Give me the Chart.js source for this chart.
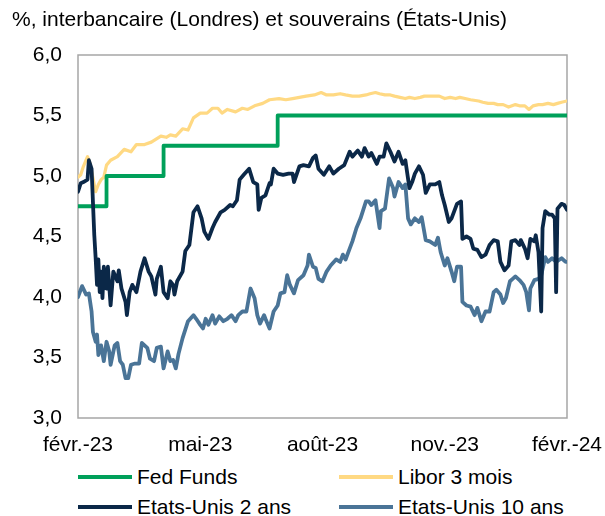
<!DOCTYPE html>
<html>
<head>
<meta charset="utf-8">
<script src="https://cdn.jsdelivr.net/npm/chart.js@4.4.1/dist/chart.umd.min.js"></script>
<style>
  html, body { margin: 0; padding: 0; background: #fff; }
  #wrap { position: relative; width: 605px; height: 516px; font-family: "Liberation Sans", Arial, sans-serif; color: #000; }
  #title { position: absolute; left: 12px; top: 7px; font-size: 21px; white-space: nowrap; }
  #chart { position: absolute; left: 0; top: 0; }
  .leg { position: absolute; display: flex; align-items: center; height: 24px; font-size: 21px; white-space: nowrap; }
  .leg i { display: inline-block; width: 54px; height: 4px; margin-right: 5px; }
</style>
</head>
<body>
<div id="wrap">
  <canvas id="chart" width="605" height="460"></canvas>
  <div id="title">%, interbancaire (Londres) et souverains (États-Unis)</div>
  <div class="leg" style="left:78px;top:465px"><i style="background:#00A05A"></i>Fed Funds</div>
  <div class="leg" style="left:339px;top:465px"><i style="background:#FFD983"></i>Libor 3 mois</div>
  <div class="leg" style="left:78px;top:495px"><i style="background:#0B2848"></i>Etats-Unis 2 ans</div>
  <div class="leg" style="left:339px;top:495px"><i style="background:#4A7497"></i>Etats-Unis 10 ans</div>
</div>
<script>
// x = days from start of series (early March 2023), axis runs 0..360
const xTickDays = [0, 90, 180, 270, 360];
const xLabels = ["févr.-23", "mai-23", "août-23", "nov.-23", "févr.-24"];

// Fed Funds (upper bound), step series
const ffDays = [0, 21, 63, 147, 360];
const ffRate = [4.75, 5.00, 5.25, 5.50, 5.50];

// Libor 3 mois
const liborDays = [0, 2, 4, 7, 9, 10, 13, 15, 17, 19, 21, 24, 29, 34, 39, 43, 49, 54, 61, 65, 68, 72, 77, 81, 85, 90,
  95, 99, 103, 106, 110, 116, 121, 125, 130, 136, 141, 148, 153, 158, 163, 168, 174, 179, 183, 188, 193, 197, 202,
  207, 212, 215, 219, 222, 226, 230, 233, 237, 241, 244, 248, 252, 255, 259, 263, 266, 270, 274, 278, 281, 285, 289,
  295, 298, 302, 306, 309, 313, 317, 322, 325, 329, 332, 335, 339, 342, 346, 350, 353, 356, 360];
const liborRate = [4.99, 5.01, 5.08, 5.16, 5.10, 5.04, 4.87, 4.93, 4.97, 4.99, 5.09, 5.13, 5.16, 5.22, 5.20, 5.26, 5.26,
  5.28, 5.33, 5.32, 5.34, 5.33, 5.39, 5.38, 5.48, 5.52, 5.52, 5.56, 5.56, 5.52, 5.55, 5.53, 5.56, 5.55, 5.58, 5.60,
  5.63, 5.64, 5.63, 5.64, 5.65, 5.66, 5.67, 5.69, 5.67, 5.67, 5.68, 5.67, 5.66, 5.66, 5.67, 5.68, 5.69, 5.68, 5.67,
  5.67, 5.66, 5.65, 5.64, 5.65, 5.64, 5.65, 5.66, 5.66, 5.66, 5.66, 5.64, 5.65, 5.64, 5.65, 5.64, 5.63, 5.62, 5.61,
  5.60, 5.60, 5.59, 5.59, 5.57, 5.59, 5.58, 5.58, 5.55, 5.58, 5.59, 5.59, 5.60, 5.59, 5.60, 5.61, 5.62];

// Etats-Unis 2 ans
const us2Days = [0, 2, 4, 7, 8, 10, 12, 13, 14, 15, 16, 17, 18, 19, 21, 22, 24, 26, 29, 30, 32, 35, 36, 38, 40, 43, 46,
  49, 52, 54, 57, 58, 61, 63, 66, 68, 70, 71, 73, 77, 79, 82, 85, 88, 91, 93, 96, 99, 101, 105, 108, 112, 114, 117,
  119, 122, 126, 129, 132, 133, 135, 138, 141, 142, 144, 147, 151, 155, 158, 159, 163, 166, 170, 173, 175, 177, 181,
  185, 188, 192, 196, 200, 202, 206, 209, 211, 214, 216, 220, 222, 225, 227, 230, 233, 236, 239, 241, 244, 246, 248,
  251, 254, 256, 259, 263, 266, 268, 270, 273, 275, 279, 282, 283, 286, 289, 291, 294, 297, 300, 303, 306, 309, 311,
  314, 317, 319, 322, 325, 326, 329, 331, 333, 336, 337, 339, 341, 342, 344, 347, 349, 351, 352, 353, 356, 358, 360];
const us2Rate = [4.87, 4.94, 4.95, 4.97, 5.13, 5.06, 4.51, 4.32, 4.10, 4.31, 4.04, 4.21, 3.99, 4.25, 4.07, 4.25, 3.93,
  4.21, 4.13, 4.22, 4.07, 3.96, 3.85, 4.04, 4.10, 4.04, 4.21, 4.32, 4.21, 4.17, 4.02, 4.15, 4.25, 4.04, 3.99, 4.13,
  4.10, 4.02, 4.13, 4.21, 4.38, 4.43, 4.70, 4.75, 4.65, 4.54, 4.48, 4.57, 4.62, 4.70, 4.72, 4.76, 4.75, 4.80, 4.97,
  5.01, 5.06, 4.95, 4.93, 4.72, 4.82, 4.84, 4.94, 4.93, 5.06, 5.02, 5.01, 5.02, 5.02, 4.95, 5.08, 5.09, 5.08, 5.15,
  5.17, 5.06, 5.01, 5.08, 5.02, 5.06, 5.09, 5.20, 5.16, 5.21, 5.16, 5.23, 5.16, 5.19, 5.10, 5.16, 5.16, 5.27, 5.20,
  5.12, 5.20, 5.10, 5.13, 4.90, 4.95, 5.02, 5.08, 5.01, 4.86, 4.93, 4.93, 4.95, 4.84, 4.76, 4.62, 4.65, 4.77, 4.79,
  4.48, 4.50, 4.48, 4.40, 4.39, 4.33, 4.35, 4.43, 4.47, 4.46, 4.29, 4.22, 4.26, 4.46, 4.47, 4.43, 4.47, 4.40, 4.32,
  4.48, 4.46, 4.51, 4.37, 3.88, 4.57, 4.71, 4.68, 4.68, 4.65, 4.04, 4.73, 4.77, 4.76, 4.72];

// Etats-Unis 10 ans
const us10Days = [0, 3, 6, 8, 10, 11, 13, 14, 15, 17, 19, 21, 23, 24, 27, 29, 31, 33, 35, 37, 39, 42, 45, 47, 51, 53,
  56, 58, 61, 63, 66, 68, 70, 72, 74, 77, 81, 85, 87, 90, 92, 94, 96, 99, 101, 104, 107, 110, 113, 116, 118, 121,
  124, 127, 130, 132, 134, 137, 138, 141, 144, 147, 149, 152, 154, 156, 159, 162, 166, 169, 170, 173, 175, 177, 180,
  183, 186, 190, 193, 195, 197, 200, 202, 205, 208, 210, 212, 214, 216, 219, 222, 223, 226, 229, 232, 233, 236, 239,
  241, 243, 245, 248, 251, 253, 256, 259, 263, 265, 267, 270, 272, 275, 277, 279, 282, 283, 286, 289, 292, 294, 297,
  300, 303, 306, 308, 311, 313, 315, 318, 320, 322, 325, 328, 330, 332, 333, 336, 339, 341, 344, 346, 349, 352, 356,
  359, 360];
const us10Rate = [4.00, 4.09, 4.02, 4.03, 3.88, 3.71, 3.63, 3.69, 3.52, 3.60, 3.47, 3.63, 3.55, 3.44, 3.60, 3.62, 3.47,
  3.44, 3.33, 3.33, 3.44, 3.45, 3.45, 3.62, 3.58, 3.49, 3.47, 3.58, 3.59, 3.41, 3.55, 3.47, 3.48, 3.41, 3.53, 3.66,
  3.80, 3.85, 3.82, 3.77, 3.74, 3.82, 3.77, 3.85, 3.78, 3.84, 3.80, 3.82, 3.85, 3.80, 3.85, 3.88, 3.88, 4.07, 3.99,
  3.85, 3.78, 3.85, 3.82, 3.74, 3.88, 3.93, 4.03, 4.04, 4.18, 4.10, 4.03, 4.14, 4.18, 4.26, 4.35, 4.25, 4.24, 4.15,
  4.13, 4.21, 4.26, 4.31, 4.29, 4.35, 4.31, 4.40, 4.46, 4.57, 4.65, 4.72, 4.79, 4.79, 4.76, 4.80, 4.57, 4.71, 4.73,
  4.98, 4.90, 4.83, 4.95, 4.90, 4.93, 4.65, 4.60, 4.65, 4.62, 4.66, 4.47, 4.46, 4.43, 4.49, 4.37, 4.26, 4.32, 4.21,
  4.13, 4.25, 4.25, 3.96, 3.93, 3.92, 3.85, 3.91, 3.80, 3.88, 3.88, 4.04, 4.06, 4.02, 3.95, 3.99, 4.13, 4.15, 4.17,
  4.14, 4.10, 4.04, 3.89, 4.07, 4.14, 4.15, 4.18, 4.33, 4.29, 4.32, 4.29, 4.32, 4.29, 4.29];

function pts(days, vals) {
  return days.map((d, i) => ({ x: d, y: vals[i] }));
}

// gray frame around the plot area
const framePlugin = {
  id: 'frame',
  beforeDatasetsDraw(chart) {
    const a = chart.chartArea, ctx = chart.ctx;
    ctx.save();
    ctx.strokeStyle = '#a6a6a6';
    ctx.lineWidth = 1.5;
    ctx.strokeRect(a.left, a.top, a.right - a.left, a.bottom - a.top);
    ctx.restore();
  }
};

const ctx = document.getElementById('chart');
new Chart(ctx, {
  type: 'line',
  data: {
    datasets: [
      { label: 'Etats-Unis 2 ans', data: pts(us2Days, us2Rate), borderColor: '#0B2848', borderWidth: 3.8 },
      { label: 'Fed Funds', data: pts(ffDays, ffRate), borderColor: '#00A05A', borderWidth: 3.8, stepped: true },
      { label: 'Etats-Unis 10 ans', data: pts(us10Days, us10Rate), borderColor: '#4A7497', borderWidth: 3.8 },
      { label: 'Libor 3 mois', data: pts(liborDays, liborRate), borderColor: '#FFD983', borderWidth: 3.2 }
    ]
  },
  options: {
    responsive: false,
    animation: false,
    devicePixelRatio: 1,
    elements: {
      point: { radius: 0 },
      line: { tension: 0, borderJoinStyle: 'round', borderCapStyle: 'round' }
    },
    layout: { padding: { left: 0, right: 38, top: 55, bottom: 0 } },
    plugins: { legend: { display: false }, tooltip: { enabled: false } },
    scales: {
      x: {
        type: 'linear',
        min: 0,
        max: 360,
        grid: { display: false, drawTicks: false },
        border: { display: false },
        afterFit: (s) => { s.height = 42; s.paddingLeft = 0; s.paddingRight = 0; },
        afterBuildTicks: (s) => { s.ticks = xTickDays.map(v => ({ value: v })); },
        ticks: {
          autoSkip: false,
          maxRotation: 0,
          padding: 15,
          color: '#000',
          font: { family: '"Liberation Sans", Arial, sans-serif', size: 21 },
          callback: (v) => xLabels[xTickDays.indexOf(v)]
        }
      },
      y: {
        min: 3,
        max: 6,
        grid: { display: false, drawTicks: false },
        border: { display: false },
        afterFit: (s) => { s.width = 78; },
        ticks: {
          stepSize: 0.5,
          padding: 16,
          color: '#000',
          font: { family: '"Liberation Sans", Arial, sans-serif', size: 21 },
          callback: (v) => v.toFixed(1).replace('.', ',')
        }
      }
    }
  },
  plugins: [framePlugin]
});
</script>
</body>
</html>
